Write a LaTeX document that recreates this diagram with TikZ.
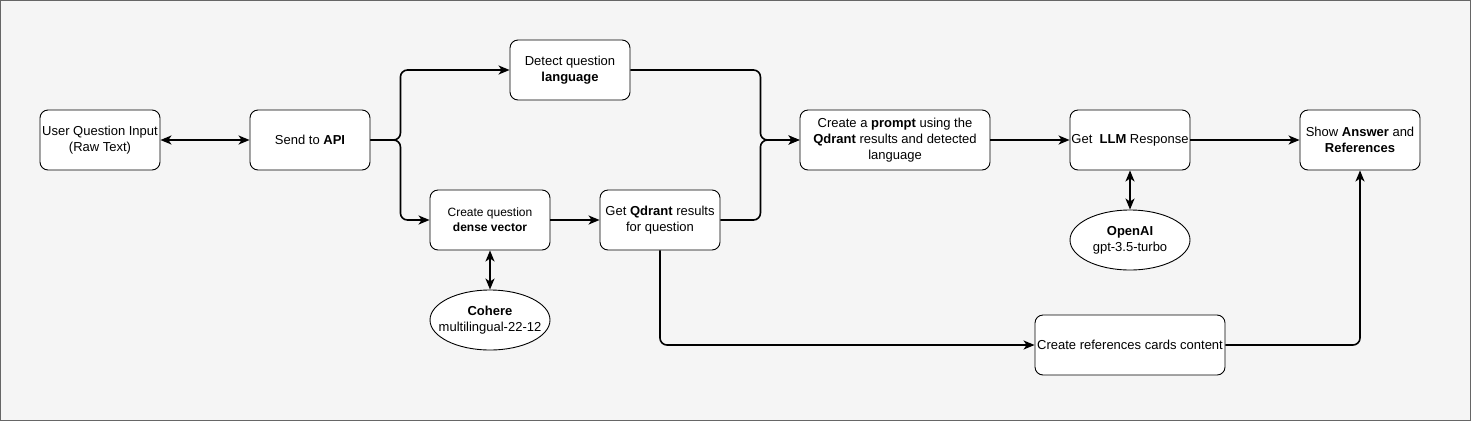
\documentclass[tikz,border=0pt]{standalone}
\usepackage{fontspec}
\setmainfont{Liberation Sans}
\usetikzlibrary{arrows.meta,shapes.geometric}

\definecolor{canvas}{HTML}{F5F5F5}
\definecolor{frameline}{HTML}{666666}

\tikzset{
  box/.style={draw, fill=white, line width=0.9pt, rounded corners=8pt,
    minimum width=120pt, minimum height=60pt, inner sep=1pt, align=center,
    font=\fontsize{13}{16}\selectfont},
  widebox/.style={box, minimum width=190pt},
  blob/.style={draw, fill=white, ellipse, line width=0.9pt,
    minimum width=120pt, minimum height=60pt, inner sep=-30pt, align=center,
    font=\fontsize{13}{16}\selectfont},
  link/.style={line width=1.6pt, rounded corners=7pt,
    -{Stealth[length=11pt,width=9pt,inset=3pt]}},
  twoway/.style={link, {Stealth[length=11pt,width=9pt,inset=3pt]}-{Stealth[length=11pt,width=9pt,inset=3pt]}}
}

\begin{document}
\begin{tikzpicture}[x=1pt,y=-1pt]
  \useasboundingbox (0,0) rectangle (1471,421);
  \draw[frameline, fill=canvas, line width=1pt] (0.5,0.5) rectangle (1470.5,420.5);

  % boxes
  \node[box] (input) at (100,140) {User Question Input\\(Raw Text)};
  \node[box] (api) at (310,140) {Send to \textbf{API}};
  \node[box] (detect) at (570,70) {Detect question\\\textbf{language}};
  \node[box, font=\fontsize{12}{15}\selectfont] (dense) at (490,220) {Create question\\\textbf{dense vector}};
  \node[box] (qdrant) at (660,220) {Get \textbf{Qdrant} results\\for question};
  \node[blob] (cohere) at (490,320) {\textbf{Cohere}\\multilingual-22-12};
  \node[widebox] (prompt) at (895,140) {Create a \textbf{prompt} using the\\\textbf{Qdrant} results and detected\\language};
  \node[box] (llm) at (1130,140) {Get\ \ \textbf{LLM} Response};
  \node[blob] (openai) at (1130,240) {\textbf{OpenAI}\\gpt-3.5-turbo};
  \node[box] (show) at (1360,140) {Show \textbf{Answer} and\\\textbf{References}};
  \node[widebox] (refs) at (1130,345) {Create references cards content};

  % connectors
  \draw[twoway] (input) -- (api);
  \draw[link] (api.east) -- ++(30,0) |- (detect.west);
  \draw[link] (api.east) -- ++(30,0) |- (dense.west);
  \draw[link] (dense) -- (qdrant);
  \draw[twoway] (dense) -- (cohere);
  \draw[link] (detect.east) -- ++(130,0) |- (prompt.west);
  \draw[link] (qdrant.east) -- ++(40,0) |- (prompt.west);
  \draw[link] (prompt) -- (llm);
  \draw[twoway] (llm) -- (openai);
  \draw[link] (llm) -- (show);
  \draw[link] (qdrant.south) |- (refs.west);
  \draw[link] (refs.east) -| (show.south);
\end{tikzpicture}
\end{document}
